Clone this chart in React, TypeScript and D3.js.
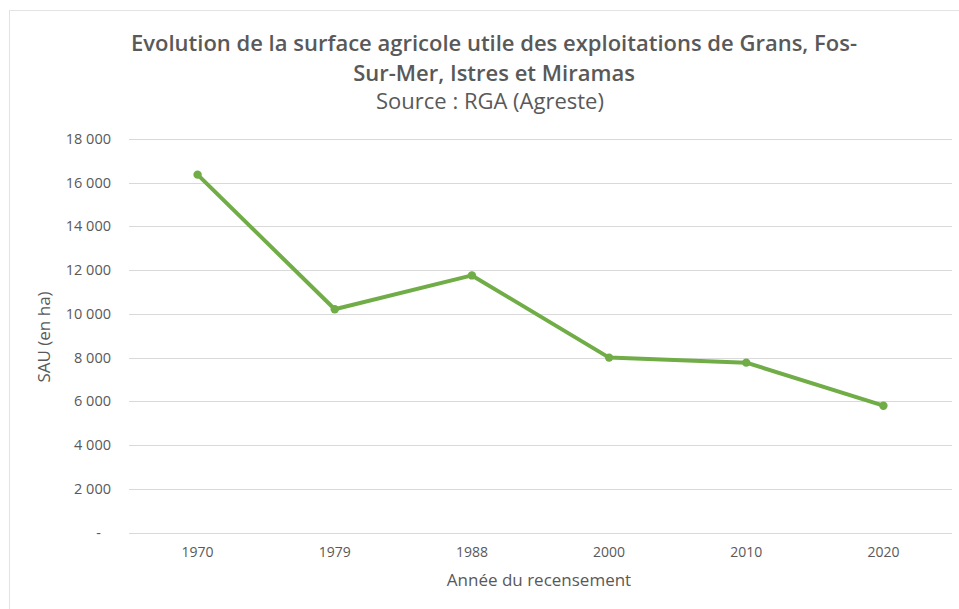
import React, { useRef, useEffect } from "react";
import * as d3 from "d3";

// data
const years = ["1970", "1979", "1988", "2000", "2010", "2020"];
const sau = [16370, 10210, 11760, 8000, 7770, 5800];
const yTicks = [0, 2000, 4000, 6000, 8000, 10000, 12000, 14000, 16000, 18000];

const titleLines = [
  "Evolution de la surface agricole utile des exploitations de Grans, Fos-",
  "Sur-Mer, Istres et Miramas",
];
const subtitle = "Source : RGA (Agreste)";

const App = () => {
  const container = useRef<SVGSVGElement | null>(null);

  const width = 959;
  const height = 609;

  useEffect(() => {
    const svg = d3.select(container.current);
    svg.selectAll("*").remove();

    const font = "'Open Sans', sans-serif";
    const grey = "#595959";

    // frame
    svg
      .append("rect")
      .attr("x", 9.5)
      .attr("y", 10.5)
      .attr("width", 980)
      .attr("height", 640)
      .attr("fill", "white")
      .attr("stroke", "#e3e3e3");

    // scales
    const xScale = d3.scaleBand().domain(years).range([129, 952]);
    const yScale = d3.scaleLinear().domain([0, 18000]).range([532.5, 139]);

    // gridlines
    svg
      .append("g")
      .selectAll("line")
      .data(yTicks)
      .enter()
      .append("line")
      .attr("x1", 129)
      .attr("x2", 952)
      .attr("y1", (d) => Math.round(yScale(d)) + 0.5)
      .attr("y2", (d) => Math.round(yScale(d)) + 0.5)
      .attr("stroke", "#d9d9d9")
      .attr("stroke-width", 1);

    // y labels
    const fmt = (v: number) =>
      v === 0 ? "-" : d3.format(",")(v).replace(/,/g, " ");
    svg
      .append("g")
      .selectAll("text")
      .data(yTicks)
      .enter()
      .append("text")
      .attr("x", (d) => (d === 0 ? 101 : 111))
      .attr("y", (d) => yScale(d) + 5)
      .attr("text-anchor", "end")
      .style("font-family", font)
      .style("font-size", "14.5px")
      .style("fill", grey)
      .text(fmt);

    // x labels
    svg
      .append("g")
      .selectAll("text")
      .data(years)
      .enter()
      .append("text")
      .attr("x", (d) => xScale(d)! + xScale.bandwidth() / 2)
      .attr("y", 557)
      .attr("text-anchor", "middle")
      .style("font-family", font)
      .style("font-size", "14px")
      .style("fill", grey)
      .text((d) => d);

    // line
    const pts = years.map((y, i) => ({ year: y, value: sau[i] }));
    const line = d3
      .line<{ year: string; value: number }>()
      .x((d) => xScale(d.year)! + xScale.bandwidth() / 2)
      .y((d) => yScale(d.value));

    svg
      .append("path")
      .datum(pts)
      .attr("d", line)
      .attr("fill", "none")
      .attr("stroke", "#70ad47")
      .attr("stroke-width", 4)
      .attr("stroke-linejoin", "round")
      .attr("stroke-linecap", "round");

    svg
      .append("g")
      .selectAll("circle")
      .data(pts)
      .enter()
      .append("circle")
      .attr("cx", (d) => xScale(d.year)! + xScale.bandwidth() / 2)
      .attr("cy", (d) => yScale(d.value))
      .attr("r", 4.2)
      .attr("fill", "#70ad47");

    // titles
    svg
      .append("g")
      .selectAll("text")
      .data(titleLines)
      .enter()
      .append("text")
      .attr("x", 494)
      .attr("y", (d, i) => 51 + i * 30)
      .attr("text-anchor", "middle")
      .style("font-family", font)
      .style("font-weight", 600)
      .style("font-size", "22px")
      .style("fill", grey)
      .text((d) => d);

    svg
      .append("text")
      .attr("x", 490)
      .attr("y", 109)
      .attr("text-anchor", "middle")
      .style("font-family", font)
      .style("font-size", "22px")
      .style("fill", grey)
      .text(subtitle);

    // axis titles
    svg
      .append("text")
      .attr("x", 539)
      .attr("y", 586)
      .attr("text-anchor", "middle")
      .style("font-family", font)
      .style("font-size", "17px")
      .style("fill", grey)
      .text("Année du recensement");

    svg
      .append("text")
      .attr("transform", "translate(50, 337) rotate(-90)")
      .attr("text-anchor", "middle")
      .style("font-family", font)
      .style("font-size", "17px")
      .style("fill", grey)
      .text("SAU (en ha)");
  }, []);

  return (
    <div style={{ position: "absolute", left: 0, top: 0, width: width, height: height }}>
      <svg
        ref={container}
        width={width}
        height={height}
        style={{ display: "block", background: "white" }}
      />
    </div>
  );
};

export default App;
